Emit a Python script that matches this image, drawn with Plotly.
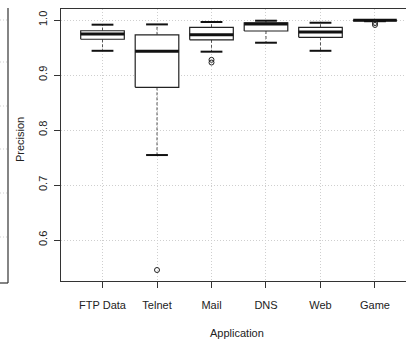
import plotly.graph_objects as go

categories = ["FTP Data", "Telnet", "Mail", "DNS", "Web", "Game"]
upper_whisker = [0.9915, 0.992, 0.9964, 0.9987, 0.995, 1.0]
q3 = [0.9805, 0.973, 0.9867, 0.995, 0.9867, 1.0]
median = [0.9745, 0.943, 0.973, 0.9927, 0.978, 0.9997]
q1 = [0.965, 0.8776, 0.964, 0.980, 0.9685, 0.9990]
lower_whisker = [0.944, 0.7545, 0.9424, 0.9587, 0.944, 0.9978]
outlier_cat = ["Telnet", "Mail", "Mail", "Game", "Game"]
outlier_val = [0.5455, 0.9276, 0.9227, 0.9945, 0.991]
y_ticks = [0.6, 0.7, 0.8, 0.9, 1.0]

W = 406
H = 341
L, T, R, B = 61, 9, 0, 60
pw = W - L - R
ph = H - T - B

half_box = 0.4
half_cap = 0.2
pos = {c: i + 1 for i, c in enumerate(categories)}

wx, wy, bx, by, mx, my, cx, cy = [], [], [], [], [], [], [], []
for i, c in enumerate(categories):
    x = pos[c]
    wx += [x, x, None, x, x, None]
    wy += [q3[i], upper_whisker[i], None, q1[i], lower_whisker[i], None]
    bx += [x - half_box, x + half_box, x + half_box, x - half_box, x - half_box, None]
    by += [q1[i], q1[i], q3[i], q3[i], q1[i], None]
    mx += [x - half_box, x + half_box, None]
    my += [median[i], median[i], None]
    cx += [x - half_cap, x + half_cap, None, x - half_cap, x + half_cap, None]
    cy += [upper_whisker[i], upper_whisker[i], None, lower_whisker[i], lower_whisker[i], None]

GRID = "#cfcfcf"
GRID_DASH = "1px,2px"

fig = go.Figure()
fig.add_trace(go.Scatter(x=wx, y=wy, mode="lines", line=dict(color="#555", width=1, dash="3px,2px"),
                         hoverinfo="skip", showlegend=False))
fig.add_trace(go.Scatter(x=bx, y=by, mode="lines", fill="toself", fillcolor="white",
                         line=dict(color="#222", width=1.2), hoverinfo="skip", showlegend=False))
fig.add_trace(go.Scatter(x=mx, y=my, mode="lines", line=dict(color="#111", width=3),
                         hoverinfo="skip", showlegend=False))
fig.add_trace(go.Scatter(x=cx, y=cy, mode="lines", line=dict(color="#111", width=2),
                         hoverinfo="skip", showlegend=False))
fig.add_trace(go.Scatter(x=[pos[c] for c in outlier_cat], y=outlier_val, mode="markers",
                         marker=dict(symbol="circle-open", size=5, color="#222", line=dict(width=1)),
                         hoverinfo="skip", showlegend=False))

def px(xp):
    return (xp - L) / pw

def py(yp):
    return (H - B - yp) / ph

shapes = []
# partial neighbouring panel at the far left
shapes.append(dict(type="line", xref="paper", yref="paper", x0=px(8), x1=px(8), y0=py(8), y1=py(283),
                   line=dict(color="#333", width=1.2)))
shapes.append(dict(type="line", xref="paper", yref="paper", x0=px(0), x1=px(8), y0=py(283), y1=py(283),
                   line=dict(color="#333", width=1.2)))
for gy in [20, 62, 106, 149, 193, 237]:
    shapes.append(dict(type="line", xref="paper", yref="paper", x0=px(0), x1=px(7.5), y0=py(gy), y1=py(gy),
                       line=dict(color=GRID, width=1, dash=GRID_DASH)))

fig.update_layout(
    width=W, height=H,
    margin=dict(l=L, r=R, t=T, b=B),
    paper_bgcolor="white", plot_bgcolor="white",
    font=dict(family="Liberation Sans, Arial, sans-serif", size=11, color="#222"),
    shapes=shapes,
    annotations=[
        dict(text="Application", xref="paper", yref="paper", x=px(237), y=py(333),
             showarrow=False, xanchor="center", yanchor="middle", font=dict(size=11, color="#222")),
        dict(text="Precision", xref="paper", yref="paper", x=px(20), y=py(140), textangle=-90,
             showarrow=False, xanchor="center", yanchor="middle", font=dict(size=11, color="#222")),
    ],
)
fig.update_xaxes(
    range=[0.2385, 6.569], tickmode="array", tickvals=list(range(1, len(categories) + 1)),
    ticktext=categories, ticks="outside", ticklen=6, tickcolor="#333",
    showline=True, mirror=True, linecolor="#333", linewidth=1.2,
    showgrid=True, gridcolor=GRID, griddash=GRID_DASH, gridwidth=1, zeroline=False,
    ticklabelstandoff=8,
)
fig.update_yaxes(
    range=[0.5255, 1.02], tickmode="array", tickvals=y_ticks,
    ticktext=[f"{v:.1f}" for v in y_ticks], tickangle=-90, ticks="outside", ticklen=6, tickcolor="#333",
    showline=True, linecolor="#333", linewidth=1.2,
    showgrid=True, gridcolor=GRID, griddash=GRID_DASH, gridwidth=1, zeroline=False,
    ticklabelstandoff=3,
)
fig.write_html(
    "out.html",
    config={"displayModeBar": False},
    post_script="document.body.style.margin='0';document.body.style.overflow='hidden';",
)
